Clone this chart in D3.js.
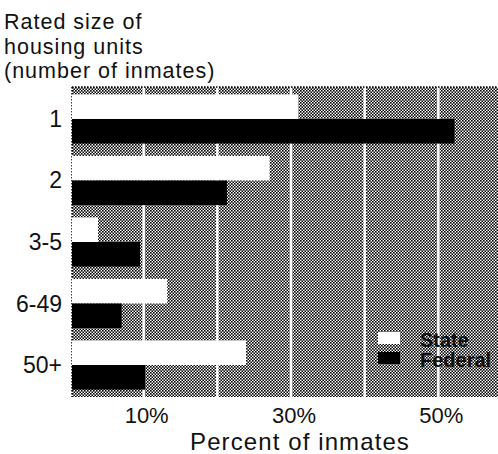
<!DOCTYPE html>
<html><head><meta charset="utf-8">
<script src="https://cdn.jsdelivr.net/npm/d3@7"></script>
<style>body{margin:0;background:#fff}svg{display:block}text{font-family:"Liberation Sans",Arial,sans-serif;fill:#111}</style>
</head><body><svg id="c" width="498" height="454"></svg>
<script>
const categories = ["1","2","3-5","6-49","50+"];
const stateValues = [31.0, 27.1, 3.8, 13.2, 23.9];
const federalValues = [52.2, 21.3, 9.5, 7.0, 10.2];
const seriesNames = ["State","Federal"];
const tickValues = [10, 30, 50];
const gridValues = [10, 20, 30, 40, 50];
const titleLines = ["Rated size of","housing units","(number of inmates)"];

const svg = d3.select("#c");
const pLeft = 72, pRight = 498, pTop = 87, pBottom = 397;
const x = d3.scaleLinear().domain([0, 58.1]).range([70, 498]);
const y = d3.scaleBand().domain(categories).range([pTop, pBottom]).paddingInner(0.2).paddingOuter(0.12);
const sub = d3.scaleBand().domain(seriesNames).range([0, y.bandwidth()]);

const defs = svg.append("defs");
const pat = defs.append("pattern").attr("id","dots").attr("width",3).attr("height",3).attr("patternUnits","userSpaceOnUse");
pat.append("rect").attr("width",3).attr("height",3).attr("fill","#fff");
pat.append("rect").attr("x",0).attr("y",0).attr("width",1.6).attr("height",1.6).attr("fill","#000");
pat.append("rect").attr("x",1.5).attr("y",1.5).attr("width",1.6).attr("height",1.6).attr("fill","#000");

svg.append("rect").attr("x",pLeft).attr("y",pTop).attr("width",pRight-pLeft).attr("height",pBottom-pTop).attr("fill","url(#dots)");
svg.selectAll(".grid").data(gridValues).join("line")
  .attr("x1",d=>x(d)).attr("x2",d=>x(d)).attr("y1",pTop).attr("y2",pBottom)
  .attr("stroke","#fff").attr("stroke-width",2.5);
svg.append("line").attr("x1",pLeft).attr("x2",pRight).attr("y1",pTop).attr("y2",pTop).attr("stroke","#000").attr("stroke-width",1.5).attr("stroke-dasharray","1.5,1.5");
svg.append("line").attr("x1",pLeft).attr("x2",pLeft).attr("y1",pTop).attr("y2",pBottom).attr("stroke","#000").attr("stroke-width",1.5).attr("stroke-dasharray","1.5,1.5");

const data = categories.map((c,i)=>({c, vals:[{s:"State",v:stateValues[i]},{s:"Federal",v:federalValues[i]}]}));
const g = svg.selectAll(".grp").data(data).join("g").attr("transform",d=>`translate(0,${y(d.c)})`);
g.selectAll("rect").data(d=>d.vals).join("rect")
  .attr("x",pLeft).attr("y",d=>sub(d.s)).attr("height",sub.bandwidth())
  .attr("width",d=>x(d.v)-pLeft)
  .attr("fill",d=>d.s==="State"?"#fff":"#000");

svg.selectAll(".cat").data(categories).join("text")
  .attr("x",62).attr("y",d=>y(d)+y.bandwidth()/2+8).attr("text-anchor","end")
  .attr("font-size",23).text(d=>d);

svg.selectAll(".tick").data(tickValues).join("text")
  .attr("x",d=>x(d)+3).attr("y",423).attr("text-anchor","middle").attr("font-size",22).text(d=>d+"%");
svg.append("text").attr("x",300).attr("y",450).attr("text-anchor","middle").attr("font-size",24).attr("letter-spacing",1.1).text("Percent of inmates");

svg.selectAll(".ttl").data(titleLines).join("text")
  .attr("x",4).attr("y",(d,i)=>29+i*24.5).attr("font-size",21.5).attr("letter-spacing",1.0).text(d=>d);

const leg = svg.selectAll(".leg").data(seriesNames).join("g").attr("transform",(d,i)=>`translate(378,${332+i*20})`);
leg.append("rect").attr("width",22).attr("height",12).attr("fill",d=>d==="State"?"#fff":"#000");
leg.append("text").attr("x",42).attr("y",15).attr("font-size",20).attr("font-weight","bold").text(d=>d);
</script></body></html>
